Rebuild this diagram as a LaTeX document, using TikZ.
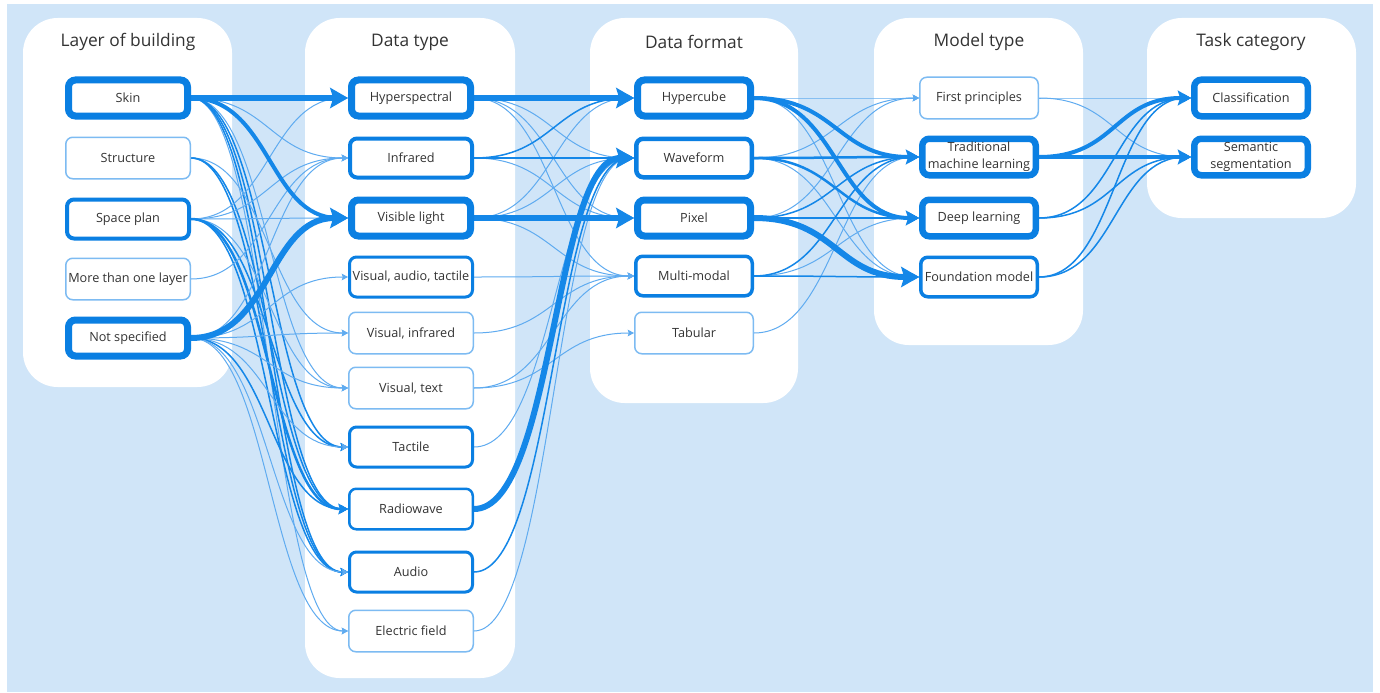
\documentclass[tikz,border=0pt]{standalone}
\usepackage{fontspec}
\setmainfont{Open Sans}
\usetikzlibrary{arrows.meta}
\definecolor{bgblue}{HTML}{D0E5F8}
\definecolor{dblue}{HTML}{0A7FE2}
\definecolor{lblue}{HTML}{7DBBF2}
\definecolor{eblue}{HTML}{1487E8}
\definecolor{elight}{HTML}{5FABF0}
\definecolor{txt}{HTML}{333333}
\newdimen\px \px=0.75pt
\pgfdeclarelayer{bg}\pgfdeclarelayer{edges}\pgfsetlayers{bg,edges,main}
\def\bw{126}
\tikzset{
  box/.style={rectangle, rounded corners=7\px, fill=white, inner sep=1pt, text=txt,
    font=\fontsize{9.5}{13}\selectfont, align=center},
  nb/.style={box, draw=dblue, line width=#1\px, minimum width=\bw\px-#1\px, minimum height=43\px-#1\px},
  nt/.style={box, draw=lblue, line width=1.5\px, minimum width=\bw\px-1.5\px, minimum height=43\px-1.5\px},
  ttl/.style={text=txt, font=\fontsize{13}{15}\selectfont},
  panel/.style={fill=white, rounded corners=26pt},
  edge/.style={-{Stealth[length=3pt 2.3, width=3pt 2.7, inset=0.5pt 0.4]}, draw=eblue},
  e1/.style={edge, line width=1\px, draw=elight},
  e2/.style={edge, line width=1.5\px},
  e3/.style={edge, line width=2.5\px},
  e4/.style={edge, line width=4\px},
  e5/.style={edge, line width=6\px},
}
\newcommand\lk[4]{\draw[#1] (#2.east) .. controls +(#4\px,0) and +(-#4\px,0) .. (#3.west);}
\begin{document}
\begin{tikzpicture}[x=0.75pt, y=-0.75pt]
\useasboundingbox (0,0) rectangle (1380,692);
\begin{pgfonlayer}{bg}
  \fill[bgblue] (7,4) rectangle (1373,692);
  \fill[panel] (23,18) rectangle (232,387);
  \fill[panel] (305,18) rectangle (515,678);
  \fill[panel] (590,18) rectangle (798,403);
  \fill[panel] (874,18) rectangle (1083,345);
  \fill[panel] (1147,18) rectangle (1356,218);
\end{pgfonlayer}
% titles
\node[ttl] (t1) at (128,42) {Layer of building};
\node[ttl] (t2) at (410,42) {Data type};
\node[ttl] (t3) at (694,42) {Data format};
\node[ttl] (t4) at (979,42) {Model type};
\node[ttl] (t5) at (1251,42) {Task category};
% column 1
\node[nb=7] (skin) at (128,98) {Skin};
\node[nt] (struct) at (128,158) {Structure};
\node[nb=4] (space) at (128,219) {Space plan};
\node[nt] (more) at (128,279) {More than one layer};
\node[nb=7] (nots) at (128,338) {Not specified};
% column 2
\node[nb=7] (hyp) at (411,98) {Hyperspectral};
\node[nb=4] (ir) at (411,158) {Infrared};
\node[nb=7] (vis) at (411,218) {Visible light};
\node[nb=3] (vat) at (411,277) {Visual, audio, tactile};
\node[nt] (vi) at (411,333) {Visual, infrared};
\node[nt] (vt) at (411,388) {Visual, text};
\node[nb=3] (tac) at (411,447) {Tactile};
\node[nb=2.5] (rad) at (411,509) {Radiowave};
\node[nb=3] (aud) at (411,572) {Audio};
\node[nt] (ef) at (411,631) {Electric field};
% column 3
\def\bw{120}
\node[nb=7] (hc) at (694,98) {Hypercube};
\node[nb=4.5] (wf) at (694,158) {Waveform};
\node[nb=7] (px) at (694,218) {Pixel};
\node[nb=3.5] (mm) at (694,276) {Multi-modal};
\node[nt] (tab) at (694,333) {Tabular};
% column 4
\node[nt] (fp) at (979,98) {First principles};
\node[nb=6.5] (tml) at (979,157) {Traditional\\machine learning};
\node[nb=6.5] (dl) at (979,218) {Deep learning};
\node[nb=3.5] (fm) at (979,277) {Foundation model};
% column 5
\node[nb=6.5] (cl) at (1251,98) {Classification};
\node[nb=6.5] (ss) at (1251,157) {Semantic\\segmentation};
\begin{pgfonlayer}{edges}
% column 1 -> column 2
\lk{e1}{skin}{ir}{79}
\lk{e1}{skin}{vt}{79}
\lk{e1}{skin}{ef}{79}
\lk{e2}{skin}{tac}{79}
\lk{e2}{skin}{rad}{79}
\lk{e2}{skin}{aud}{79}
\lk{e1}{struct}{vi}{79}
\lk{e2}{struct}{rad}{79}
\lk{e2}{struct}{aud}{79}
\lk{e1}{space}{hyp}{79}
\lk{e1}{space}{ir}{79}
\lk{e1}{space}{vis}{79}
\lk{e1}{space}{vt}{79}
\lk{e2}{space}{tac}{79}
\lk{e2}{space}{aud}{79}
\lk{e3}{space}{rad}{79}
\lk{e1}{more}{ir}{79}
\lk{e1}{nots}{ir}{79}
\lk{e1}{nots}{vat}{79}
\lk{e1}{nots}{vi}{79}
\lk{e1}{nots}{vt}{79}
\lk{e1}{nots}{tac}{79}
\lk{e2}{nots}{rad}{79}
\lk{e1}{nots}{aud}{79}
\lk{e1}{nots}{ef}{79}
\lk{e4}{skin}{vis}{79}
\lk{e5}{skin}{hyp}{79}
\lk{e5}{nots}{vis}{79}
% column 2 -> column 3
\lk{e1}{hyp}{wf}{80}
\lk{e1}{hyp}{px}{80}
\lk{e1}{hyp}{mm}{80}
\lk{e1}{ir}{px}{80}
\lk{e1}{vis}{hc}{80}
\lk{e1}{vis}{wf}{80}
\lk{e1}{vis}{mm}{80}
\lk{e1}{vat}{mm}{80}
\lk{e1}{vi}{mm}{80}
\lk{e1}{vt}{mm}{80}
\lk{e1}{vt}{tab}{80}
\lk{e1}{tac}{wf}{80}
\lk{e1}{ef}{wf}{80}
\lk{e2}{aud}{wf}{80}
\lk{e2}{ir}{hc}{80}
\lk{e3}{ir}{wf}{80}
\lk{e5}{rad}{wf}{80}
\lk{e5}{hyp}{hc}{80}
\lk{e5}{vis}{px}{80}
% column 3 -> column 4
\lk{e1}{hc}{fp}{82}
\lk{e1}{hc}{fm}{82}
\lk{e1}{wf}{fp}{82}
\lk{e1}{wf}{fm}{82}
\lk{e1}{px}{fp}{82}
\lk{e1}{mm}{dl}{82}
\lk{e1}{tab}{tml}{82}
\lk{e2}{px}{tml}{82}
\lk{e2}{px}{dl}{82}
\lk{e2}{mm}{tml}{82}
\lk{e2}{mm}{fm}{82}
\lk{e3}{wf}{tml}{82}
\lk{e3}{wf}{dl}{82}
\lk{e4}{hc}{tml}{82}
\lk{e4}{hc}{dl}{82}
\lk{e5}{px}{fm}{82}
% column 4 -> column 5
\lk{e1}{fp}{cl}{77}
\lk{e1}{fp}{ss}{77}
\lk{e2}{dl}{cl}{77}
\lk{e2}{dl}{ss}{77}
\lk{e2}{fm}{cl}{77}
\lk{e2}{fm}{ss}{77}
\lk{e4}{tml}{cl}{77}
\lk{e4}{tml}{ss}{77}
\end{pgfonlayer}
\end{tikzpicture}
\end{document}
